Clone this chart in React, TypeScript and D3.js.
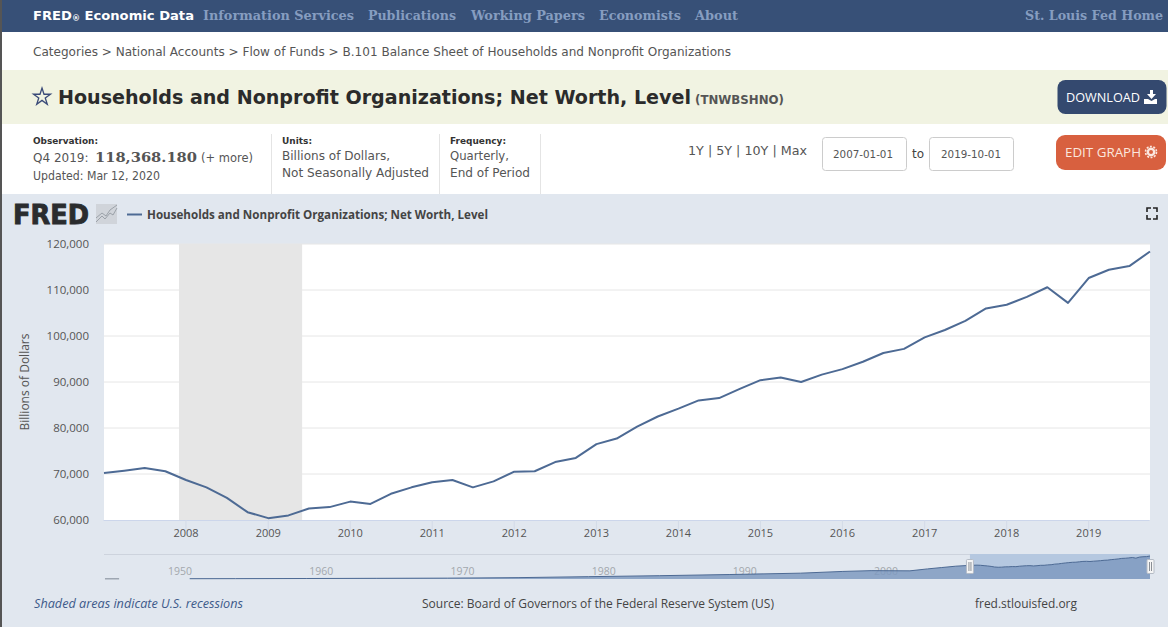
import { useEffect, useRef } from 'react';
import * as d3 from 'd3';

// quarterly net worth, 2007 Q1 to 2019 Q4
const quarters = d3.range(0, 52).map((i) => new Date(2007, i * 3, 1));
const netWorth = [
  70200, 70700, 71300, 70600,
  68700, 67100, 64800, 61700,
  60400, 61000, 62500, 62800,
  64000, 63500, 65700, 67100,
  68200, 68700, 67100, 68400,
  70500, 70600, 72600, 73500,
  76500, 77700, 80300, 82500,
  84200, 86000, 86500, 88500,
  90400, 91000, 90000, 91600,
  92800, 94400, 96300, 97200,
  99700, 101300, 103300, 106000,
  106800, 108500, 110600, 107200,
  112600, 114400, 115200, 118368,
];

// long history behind the navigator, read roughly
const navYears = [1951.75, 1955, 1960, 1965, 1970, 1975, 1980, 1985, 1990, 1995, 1998, 2000, 2002.75, 2004, 2005, 2006, 2007];
const navValues = [1500, 1800, 2500, 3500, 4500, 7000, 12000, 17000, 23000, 30000, 39000, 43000, 42000, 52000, 59000, 66000, 70200];
const earlyYears = [1945.75, 1946.75];
const earlyValues = [800, 850];

const yTicks = [60000, 70000, 80000, 90000, 100000, 110000, 120000];
const xTickYears = d3.range(2008, 2020);
const navTickYears = [1950, 1960, 1970, 1980, 1990, 2000];

const navLinks = ['Information Services', 'Publications', 'Working Papers', 'Economists', 'About'];
const navLinkX = [203, 368, 471, 599, 695];
const navLinkW = [151, 88, 114, 82, 43];

const sans = '"Open Sans", sans-serif';
const tahoma = '"DejaVu Sans", sans-serif';
const serif = "'DejaVu Serif', serif";
const lineColor = '#4d6a94';
const fit = { lengthAdjust: 'spacingAndGlyphs' };

const yearOf = (d: Date) => d.getFullYear() + d.getMonth() / 12;

export default function App() {
  const chartRef = useRef<SVGGElement>(null);

  useEffect(() => {
    if (!chartRef.current) return;
    const g = d3.select(chartRef.current);
    g.selectAll('*').remove();

    const x = d3.scaleTime().domain([new Date(2007, 0, 1), new Date(2019, 9, 1)]).range([104, 1150]);
    const y = d3.scaleLinear().domain([60000, 120000]).range([520, 244]);

    g.append('rect').attr('x', 104).attr('y', 244).attr('width', 1046).attr('height', 276).attr('fill', '#fff');

    // gridlines
    g.append('g')
      .selectAll('line')
      .data(yTicks.slice(1))
      .join('line')
      .attr('x1', 104)
      .attr('x2', 1150)
      .attr('y1', (d) => y(d))
      .attr('y2', (d) => y(d))
      .attr('stroke', '#e6e6e6');

    // recession
    g.append('rect')
      .attr('x', x(new Date(2007, 11, 1)))
      .attr('width', x(new Date(2009, 5, 1)) - x(new Date(2007, 11, 1)))
      .attr('y', 244)
      .attr('height', 276)
      .attr('fill', '#e6e6e6');

    // axes
    const yAxis = g.append('g')
      .attr('transform', 'translate(104,0)')
      .call(d3.axisLeft(y).tickValues(yTicks).tickFormat(d3.format(',') as any).tickSize(0).tickPadding(15));
    yAxis.select('.domain').remove();
    yAxis.selectAll('text').attr('font-family', sans).attr('font-size', 11.5).attr('fill', '#555');

    const xAxis = g.append('g')
      .attr('transform', 'translate(-0.5,520)')
      .call(
        d3.axisBottom(x)
          .tickValues(xTickYears.map((yr) => new Date(yr, 0, 1)))
          .tickFormat(d3.timeFormat('%Y') as any)
          .tickSize(10)
          .tickPadding(-1)
      );
    xAxis.select('.domain').attr('stroke', '#ccd6eb').attr('d', 'M104,0.5H1150');
    xAxis.selectAll('.tick line').attr('stroke', '#d3dbe8');
    xAxis.selectAll('text').attr('font-family', sans).attr('font-size', 11).attr('fill', '#555');

    // series
    const line = d3.line<number>()
      .x((_, i) => x(quarters[i]))
      .y((d) => y(d));
    g.append('path')
      .attr('d', line(netWorth))
      .attr('fill', 'none')
      .attr('stroke', lineColor)
      .attr('stroke-width', 2)
      .attr('stroke-linejoin', 'round');

    // navigator
    const nx = d3.scaleLinear().domain([1950, 2019.75]).range([165, 1150]);
    const ny = d3.scaleLinear().domain([0, 118368]).range([579, 556]);
    const navX = [...navYears, ...quarters.slice(1).map(yearOf)];
    const navY = [...navValues, ...netWorth.slice(1)];
    const area = d3.area<number>()
      .x((_, i) => nx(navX[i]))
      .y0(579)
      .y1((d) => ny(d));
    const navLine = d3.line<number>()
      .x((_, i) => nx(navX[i]))
      .y((d) => ny(d));

    g.append('line').attr('x1', 104).attr('x2', 1150).attr('y1', 554.5).attr('y2', 554.5).attr('stroke', '#cdd3dd');
    const selStart = nx(2007);
    g.append('rect').attr('x', selStart).attr('y', 554).attr('width', 1150 - selStart).attr('height', 25).attr('fill', '#b5c8e0');

    g.append('g')
      .selectAll('text')
      .data(navTickYears)
      .join('text')
      .attr('x', (d) => nx(d))
      .attr('dx', 3)
      .attr('y', 575)
      .attr('font-family', sans)
      .attr('font-size', 10.5)
      .attr('fill', '#a3a7ad')
      .text((d) => d);

    g.append('path').attr('d', area(navY)).attr('fill', '#7f9abf').attr('fill-opacity', 0.85);
    g.append('path').attr('d', navLine(navY)).attr('fill', 'none').attr('stroke', lineColor).attr('stroke-width', 1);

    const earlyLine = d3.line<number>()
      .x((_, i) => nx(earlyYears[i]))
      .y((d) => ny(d));
    g.append('path').attr('d', earlyLine(earlyValues)).attr('fill', 'none').attr('stroke', '#7d8794').attr('stroke-width', 1);

    // navigator handles
    [selStart, 1150.5].forEach((hx) => {
      g.append('rect')
        .attr('x', hx - 3.5)
        .attr('y', 559.5)
        .attr('width', 7)
        .attr('height', 14)
        .attr('rx', 1)
        .attr('fill', '#f5f5f5')
        .attr('stroke', '#b5bcc6');
      [-1, 1].forEach((off) => {
        g.append('line')
          .attr('x1', hx + off)
          .attr('x2', hx + off)
          .attr('y1', 562)
          .attr('y2', 571)
          .attr('stroke', '#8a8f96');
      });
    });
  }, []);

  return (
    <svg
      width={1168}
      height={627}
      style={{ position: 'absolute', left: 0, top: 0 }}
      fontFamily={tahoma}
    >
      <rect width={1168} height={627} fill="#fff" />

      {/* top nav */}
      <rect width={1168} height={32} fill="#375077" />
      <text x={33} y={20} fontSize={13} fontWeight="bold" fill="#fff" textLength={161} {...fit}>
        FRED<tspan fontSize={8} dy={1}>®</tspan><tspan dy={-1}> Economic Data</tspan>
      </text>
      {navLinks.map((t, i) => (
        <text key={t} x={navLinkX[i]} y={20} fontSize={13} fontWeight="bold" fill="#869dc0" fontFamily={serif} textLength={navLinkW[i]} {...fit}>
          {t}
        </text>
      ))}
      <text x={1025} y={20} fontSize={13} fontWeight="bold" fill="#869dc0" fontFamily={serif} textLength={138} {...fit}>
        St. Louis Fed Home
      </text>

      {/* breadcrumb */}
      <text x={33} y={56} fontSize={12.5} fill="#555" fontFamily={tahoma} textLength={698} {...fit}>
        Categories &gt; National Accounts &gt; Flow of Funds &gt; B.101 Balance Sheet of Households and Nonprofit Organizations
      </text>

      {/* title band */}
      <rect y={70} width={1168} height={54} fill="#f1f3e2" />
      <path
        d={d3.symbol().type(d3.symbolStar).size(90)() ?? ''}
        transform="translate(42,97)"
        fill="none"
        stroke="#3a4a78"
        strokeWidth={1.3}
      />
      <text x={58} y={104} fontSize={19} fontWeight="bold" fill="#2b2b2b" textLength={633} {...fit}>
        Households and Nonprofit Organizations; Net Worth, Level
      </text>
      <text x={695} y={104} fontSize={12} fontWeight="bold" fill="#555" textLength={89} {...fit}>
        (TNWBSHNO)
      </text>

      <rect x={1057.5} y={80} width={109} height={34} rx={8} fill="#34496f" />
      <text x={1066} y={102} fontSize={12.5} fill="#fff" fontFamily={sans} textLength={74} {...fit}>DOWNLOAD</text>
      <path d="M1150 90h3v4h3l-4.5 5-4.5-5h3zM1144 99h4l3.5 2 3.5-2h2v5h-13z" fill="#fff" />

      {/* observation block */}
      <text x={33} y={144} fontSize={9.5} fontWeight="bold" fill="#333" textLength={65} {...fit}>Observation:</text>
      <text x={33} y={162} fontSize={12} fill="#555">
        Q4 2019:
      </text>
      <text x={95} y={162} fontSize={13} fontWeight="bold" fill="#555" fontFamily={serif} textLength={102} {...fit}>118,368.180</text>
      <text x={201} y={162} fontSize={11.5} fill="#555" textLength={52} {...fit}>(+ more)</text>
      <text x={33} y={180} fontSize={11.5} fill="#555" textLength={127} {...fit}>Updated: Mar 12, 2020</text>
      <line x1={271.5} x2={271.5} y1={134} y2={194} stroke="#e4e4e4" />
      <text x={282} y={144} fontSize={9.5} fontWeight="bold" fill="#333" textLength={30} {...fit}>Units:</text>
      <text x={282} y={160} fontSize={12} fill="#555" textLength={108} {...fit}>Billions of Dollars,</text>
      <text x={282} y={177} fontSize={12} fill="#555" textLength={147} {...fit}>Not Seasonally Adjusted</text>
      <line x1={439.5} x2={439.5} y1={134} y2={194} stroke="#e4e4e4" />
      <text x={450} y={144} fontSize={9.5} fontWeight="bold" fill="#333" textLength={56} {...fit}>Frequency:</text>
      <text x={450} y={160} fontSize={12} fill="#555" textLength={59} {...fit}>Quarterly,</text>
      <text x={450} y={177} fontSize={12} fill="#555" textLength={80} {...fit}>End of Period</text>
      <line x1={540.5} x2={540.5} y1={134} y2={194} stroke="#e4e4e4" />

      {/* date range */}
      <text x={688} y={155} fontSize={12} fill="#555" textLength={119} {...fit}>1Y | 5Y | 10Y | Max</text>
      <rect x={822.5} y={137.5} width={84} height={33} rx={3} fill="#fff" stroke="#ccc" />
      <text x={833} y={158} fontSize={10} fill="#555" textLength={60} {...fit}>2007-01-01</text>
      <text x={912} y={158} fontSize={12} fill="#444">to</text>
      <rect x={929.5} y={137.5} width={84} height={33} rx={3} fill="#fff" stroke="#ccc" />
      <text x={941} y={158} fontSize={10} fill="#555" textLength={60} {...fit}>2019-10-01</text>

      <rect x={1056} y={135} width={110} height={35} rx={9} fill="#d8603f" />
      <text x={1065} y={157} fontSize={12} fill="#fbe6de" fontFamily={sans} textLength={76} {...fit}>EDIT GRAPH</text>
      <circle cx={1151} cy={152} r={5.5} fill="none" stroke="#fbe6de" strokeWidth={1.6} strokeDasharray="2 1.45" />
      <circle cx={1151} cy={152} r={3.2} fill="none" stroke="#fbe6de" strokeWidth={2.4} />

      {/* chart panel */}
      <rect y={194} width={1168} height={433} fill="#e1e7ef" />
      <text x={13} y={224} fontSize={26} fontWeight="bold" fill="#2a2c2e" stroke="#2a2c2e" strokeWidth={0.9} fontFamily={tahoma} textLength={76} {...fit}>FRED</text>
      <rect x={96} y={204} width={21} height={20} fill="#d0d4da" />
      <path d="M96 222l6-6 3 3 5-6 3 2 4-7M96 218l6-5 4 3 4-6 7-5" fill="none" stroke="#8d949c" strokeWidth={0.8} />
      <line x1={127} x2={142} y1={214.5} y2={214.5} stroke={lineColor} strokeWidth={2} />
      <text x={147} y={219} fontSize={11.5} fontWeight="bold" fill="#444" fontFamily={sans} textLength={341} {...fit}>
        Households and Nonprofit Organizations; Net Worth, Level
      </text>
      <path d="M1147 212v-4h4M1153 208h4v4M1157 215v4h-4M1151 219h-4v-4" fill="none" stroke="#222" strokeWidth={1.6} />

      <text
        transform="translate(29,382) rotate(-90)"
        textAnchor="middle"
        fontSize={12}
        fill="#555"
        fontFamily={sans}
      >
        Billions of Dollars
      </text>

      <g ref={chartRef} />

      {/* footer */}
      <text x={34} y={608} fontSize={12} fontStyle="italic" fill="#3d5a8a" fontFamily={sans} textLength={209} {...fit}>
        Shaded areas indicate U.S. recessions
      </text>
      <text x={422} y={608} fontSize={12} fill="#444" fontFamily={sans} textLength={352} {...fit}>
        Source: Board of Governors of the Federal Reserve System (US)
      </text>
      <text x={975} y={608} fontSize={12} fill="#444" fontFamily={sans} textLength={102} {...fit}>
        fred.stlouisfed.org
      </text>

      {/* dark screenshot edge */}
      <rect width={2} height={627} fill="#555" />
    </svg>
  );
}
